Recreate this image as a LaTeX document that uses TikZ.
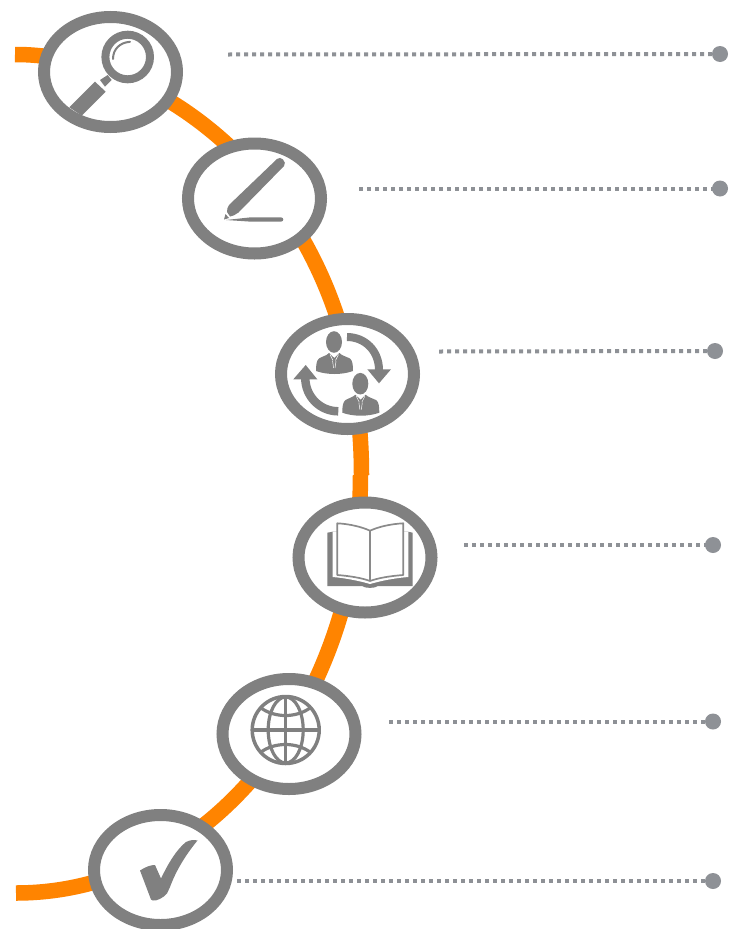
\documentclass[tikz,border=0pt]{standalone}
\usetikzlibrary{shapes.geometric}
\definecolor{ringgrey}{HTML}{808080}
\definecolor{leadgrey}{HTML}{8E9196}
\definecolor{trackorange}{HTML}{FF8400}
\tikzset{
  ring/.style={ellipse,draw=ringgrey,fill=white,line width=12pt,minimum width=133pt,minimum height=110pt,inner sep=0pt},
  enddot/.style={circle,fill=leadgrey,minimum size=16pt,inner sep=0pt},
  leader/.style={draw=leadgrey,line width=4pt,dash pattern=on 4pt off 4pt},
  track/.style={draw=trackorange,line width=15.5pt},
  glyph/.style={fill=ringgrey,draw=none},
  glyphline/.style={draw=ringgrey}
}
\newcommand{\personglyph}{%
  \fill[glyph] (334,342) ellipse [x radius=8,y radius=10.8];
  \fill[glyph] (316,371) .. controls (316,365) and (316.5,360.5) .. (319,358.5)
     .. controls (322,356.5) and (327,355.5) .. (329,353) -- (334.3,358) -- (339.5,353)
     .. controls (341.5,355.5) and (346,356.5) .. (350,358.5)
     .. controls (352.5,360.5) and (353,365) .. (353,371)
     .. controls (342,375) and (327,375) .. (316,371) -- cycle;
  \draw[white,line width=.5pt] (330,354.5) -- (333,360.5);
  \draw[white,line width=.5pt] (338.5,354.5) -- (335.5,360.5);
  \draw[white,line width=.5pt] (332.6,361) -- (333.6,368);
  \draw[white,line width=.5pt] (336,361) -- (335,368);
}
\begin{document}
\begin{tikzpicture}[x=1pt,y=-1pt]
\clip (0,0) rectangle (729,929);
\fill[white] (0,0) rectangle (729,929);
% track
\coordinate (ttop) at (15,54.5);
\coordinate (tmida) at (361.5,475);
\coordinate (tmidb) at (360.5,475);
\coordinate (tbot) at (16,893);
\draw[track] (ttop) .. controls (163,54) and (361.5,198) .. (tmida);
\draw[track] (tmidb) .. controls (360.5,700) and (210,893) .. (tbot);
% rings
\node[ring] (r1) at (110.5,72) {};
\node[ring] (r2) at (254.5,198.5) {};
\node[ring] (r3) at (347.5,374) {};
\node[ring] (r4) at (365,557.5) {};
\node[ring] (r5) at (289,734) {};
\node[ring] (r6) at (160.5,870) {};
% leaders
\coordinate (s1) at (228,54.5);
\coordinate (s2) at (359,188.5);
\coordinate (s3) at (439,351.5);
\coordinate (s4) at (464,545);
\coordinate (s5) at (389,721.5);
\coordinate (s6) at (237,881);
\node[enddot] (d1) at (720,54) {};
\node[enddot] (d2) at (720,188.5) {};
\node[enddot] (d3) at (715,351) {};
\node[enddot] (d4) at (713,545) {};
\node[enddot] (d5) at (713,721.5) {};
\node[enddot] (d6) at (713,881) {};
\draw[leader] (s1) -- (d1.center);
\draw[leader] (s2) -- (d2.center);
\draw[leader] (s3) -- (d3.center);
\draw[leader] (s4) -- (d4.center);
\draw[leader] (s5) -- (d5.center);
\draw[leader] (s6) -- (d6.center);
% magnifier
\draw[glyphline,line width=8pt] (127.7,57) circle [radius=22.3];
\draw[glyphline,line width=2pt,line cap=round] (113,59) .. controls (113,49) and (120,42.5) .. (130,41.8);
\fill[glyph] (100,80) -- (107.7,75) -- (111.7,80) -- (105,86.7) -- cycle;
\fill[glyph] (95,81.7) -- (105.7,91.7) -- (81.7,115.7) -- (69.3,107.3) -- cycle;
% pencil
\fill[glyph] (277,159) .. controls (279,157.5) and (281,157.5) .. (283,159.5)
  .. controls (285,161.5) and (285.5,164) .. (284,166)
  -- (238.5,212.5) .. controls (236,215) and (232,216) .. (230,216.5)
  -- (227,212) .. controls (227.5,209) and (227,207) .. (229,205) -- cycle;
\fill[glyph] (224,219.5) -- (225.5,214) -- (229,218) -- cycle;
\fill[glyph] (226,220) -- (250,217.4) -- (281,217.4)
  .. controls (284,217.4) and (284,221.6) .. (281,221.6) -- (250,221.6) -- cycle;
% people and arrows
\personglyph
\begin{scope}[shift={(26.3,41.7)}]
\personglyph
\end{scope}
\draw[glyphline,line width=8pt] (347,337) .. controls (365,337) and (379,351) .. (379,370);
\fill[glyph] (367.3,369.3) -- (391,369.3) -- (379,383.3) -- cycle;
\draw[glyphline,line width=8.5pt] (338.3,411.3) .. controls (320,411.3) and (305.3,396.5) .. (305.3,378);
\fill[glyph] (293.3,379.3) -- (317.3,379.3) -- (305.7,365) -- cycle;
% book
\fill[glyph] (327.3,532.7) -- (332.7,531.7) -- (408,531.7) -- (412.7,532.7) -- (412.7,586)
  -- (378,586) .. controls (375,588.5) and (365,588.5) .. (362,586) -- (327.3,586) -- cycle;
\fill[white] (332.7,531.7) -- (408.3,531.7) -- (408.3,577) .. controls (395,578) and (380,581) .. (370,584)
  .. controls (360,581) and (345,578) .. (332.7,577) -- cycle;
\draw[draw=ringgrey!92!white,fill=white,line width=1.7pt,line join=round]
  (337.3,523.3) .. controls (350,524) and (362,527) .. (370,530.7)
  .. controls (378,527) and (390,524) .. (403.3,523.3) -- (403.3,575)
  .. controls (390,576) and (378,578) .. (370,581)
  .. controls (362,578) and (350,576) .. (337.3,575) -- cycle;
\draw[draw=ringgrey!92!white,line width=1.7pt] (370,530.7) -- (370,581);
% globe
\draw[glyphline,line width=3.5pt] (285.7,730) circle [radius=33.5];
\draw[glyphline,line width=3.2pt] (285.7,730) ellipse [x radius=17.5,y radius=33];
\draw[glyphline,line width=3.2pt] (285.7,697) -- (285.7,763);
\draw[glyphline,line width=3.2pt] (252.2,730) -- (319.2,730);
\draw[glyphline,line width=3.2pt] (261,708) .. controls (275,718) and (296,718) .. (310,708);
\draw[glyphline,line width=3.2pt] (261,752) .. controls (275,742) and (296,742) .. (310,752);
% check
\fill[glyph] (140,870.5) .. controls (146,866.5) and (151,865) .. (155,865)
  -- (161,878.5) .. controls (168,864) and (176,850) .. (186,842)
  .. controls (190,840) and (194,839.5) .. (197.5,840.5)
  .. controls (188,852) and (177,868) .. (170,887)
  -- (167,893.5) .. controls (163,898) and (157,901) .. (153,900.5) -- (151,899.5) -- cycle;
\end{tikzpicture}
\end{document}
